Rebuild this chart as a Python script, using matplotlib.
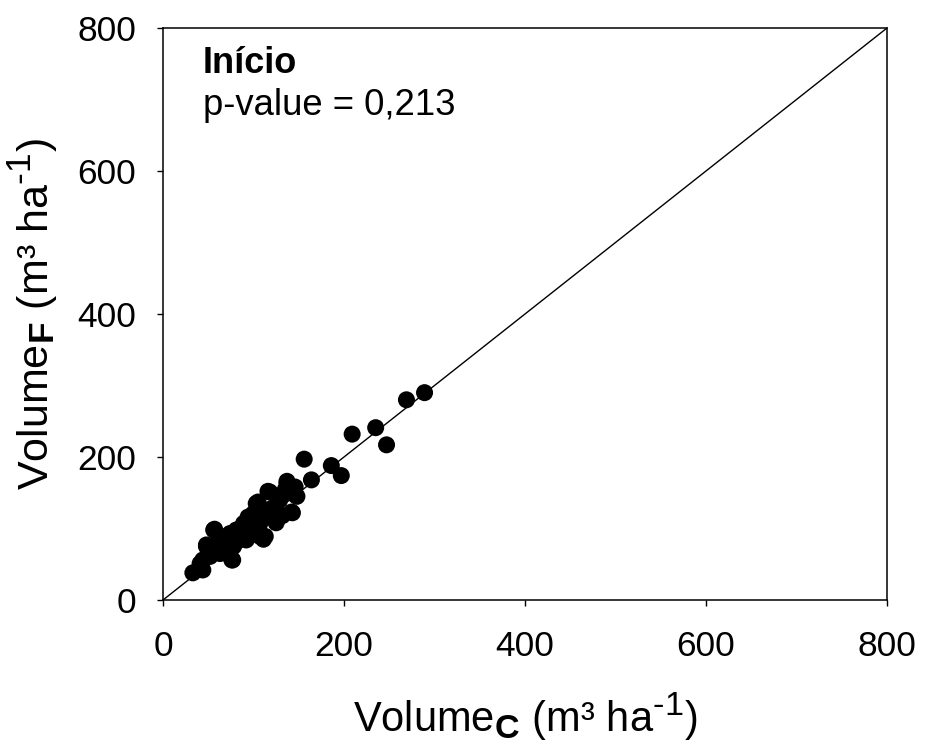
import numpy as np
import matplotlib
matplotlib.use("Agg")
import matplotlib.pyplot as plt

# ============================
# Dados
# ============================
vol_c = [289, 269, 235, 209, 247, 156, 186, 197, 164, 137, 146, 148, 143,
         116, 104, 125, 111, 92, 57, 48, 77, 33, 44,
         137, 146, 142, 118, 105, 124, 126, 113, 94, 91, 107, 116, 129, 135,
         56, 48, 76, 41, 63, 70, 81, 89, 92, 107, 103, 59, 52, 67, 78, 85,
         96, 111, 100, 44, 74, 120, 132, 98, 86]
vol_f = [290, 280, 241, 232, 217, 197, 188, 174, 168, 166, 158, 145, 122,
         152, 135, 108, 85, 107, 99, 77, 56, 38, 56,
         163, 147, 123, 151, 137, 130, 112, 89, 116, 98, 107, 121, 140, 154,
         98, 75, 56, 51, 65, 89, 98, 107, 84, 89, 135, 79, 61, 75, 75, 84,
         103, 117, 121, 42, 93, 128, 118, 92, 99]

ticks = [0, 200, 400, 600, 800]

# ============================
# Estilo
# ============================
plt.rcParams['font.family'] = ['Liberation Sans', 'DejaVu Sans']
plt.rcParams['mathtext.fontset'] = 'custom'
plt.rcParams['mathtext.rm'] = 'Liberation Sans'
plt.rcParams['mathtext.bf'] = 'Liberation Sans:bold'
plt.rcParams['mathtext.it'] = 'Liberation Sans:italic'
plt.rcParams['mathtext.default'] = 'rm'

# sub/sobrescritos um pouco maiores (como no original)
try:
    import matplotlib._mathtext as _mt
    _mt.SHRINK_FACTOR = 0.82
except Exception:
    pass

fig = plt.figure(figsize=(9.25, 7.52), dpi=100)
ax = fig.add_axes([163/925, 1 - 600/752, 724/925, 572/752])

# linha 1:1
ax.plot([0, 800], [0, 800], color='black', lw=1)
ax.scatter(vol_c, vol_f, s=150, color='black', edgecolors='none', zorder=3)

ax.set_xlim(0, 800)
ax.set_ylim(0, 800)
ax.set_xticks(ticks)
ax.set_yticks(ticks)
ax.tick_params(axis='both', direction='out', length=4.5, width=1,
               labelsize=25.5, top=False, right=False)
ax.tick_params(axis='x', pad=17)
ax.tick_params(axis='y', pad=15)
for sp in ax.spines.values():
    sp.set_linewidth(1.1)

ax.set_xlabel(r"Volume$_\mathbf{C}$ (m³ ha$^{\text{-}1}$)", fontsize=30)
ax.set_ylabel(r"Volume$_\mathbf{F}$ (m³ ha$^{\text{-}1}$)", fontsize=31)
ax.xaxis.set_label_coords(0.5, -0.158)
ax.yaxis.set_label_coords(-0.142, 0.5)

ax.text(0.055, 0.921, "Início", transform=ax.transAxes, fontsize=26,
        fontweight='bold', va='baseline', ha='left')
ax.text(0.055, 0.848, "p-value = 0,213", transform=ax.transAxes,
        fontsize=26.3, va='baseline', ha='left')

fig.savefig("out.png", dpi=100)
